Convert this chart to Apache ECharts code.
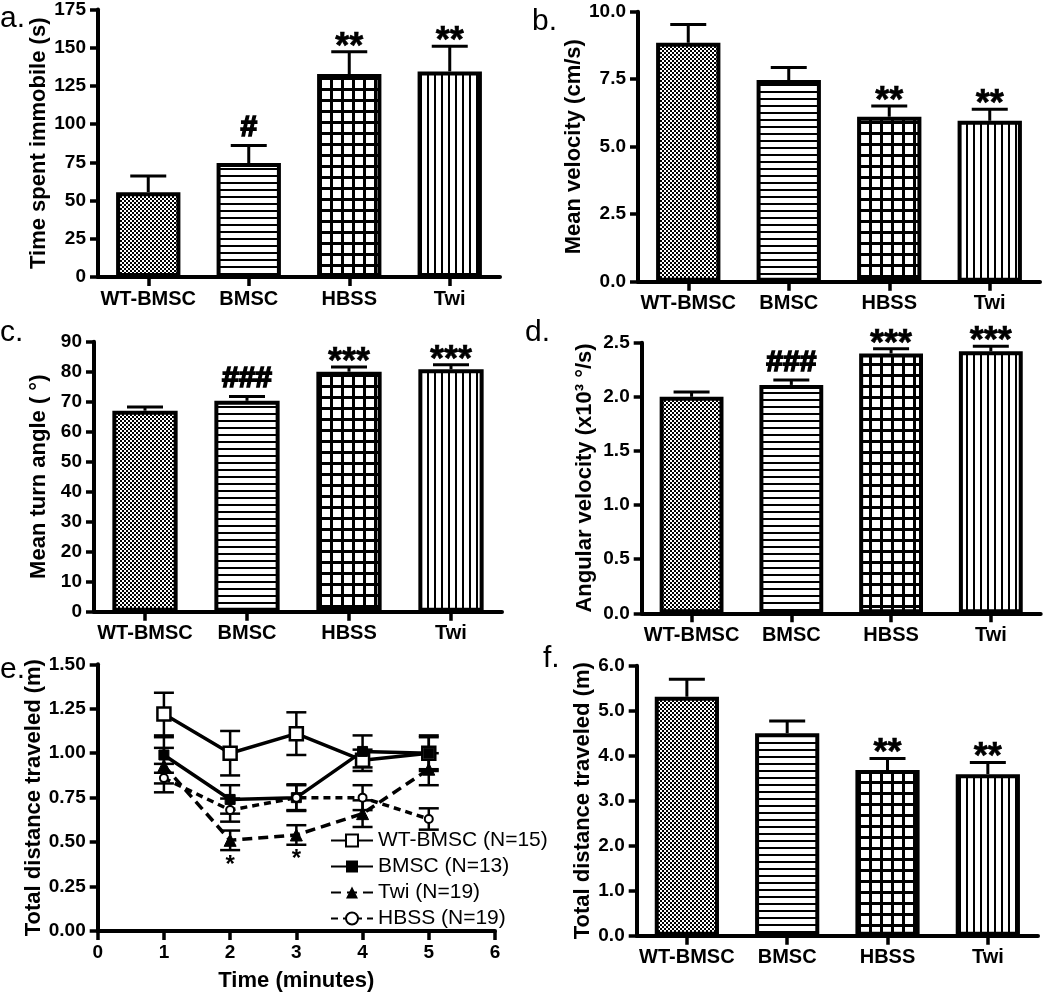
<!DOCTYPE html>
<html><head><meta charset="utf-8">
<script src="https://cdn.jsdelivr.net/npm/echarts@6/dist/echarts.min.js"></script>
<style>html,body{margin:0;padding:0;background:#fff}#c{width:1050px;height:995px}</style>
</head><body><div id="c"></div>
<script>
// ---------- data ----------
const groups = ['WT-BMSC', 'BMSC', 'HBSS', 'Twi'];

const immobileMean = [55.5, 74.5, 132.8, 134.5];
const immobileSem  = [10.5, 11.5, 14.6, 16.5];
const immobileSig  = ['', '#', '**', '**'];

const velocityMean = [8.85, 7.47, 6.11, 5.96];
const velocitySem  = [0.68, 0.46, 0.40, 0.43];
const velocitySig  = ['', '', '**', '**'];

const turnMean = [67.0, 70.3, 80.0, 80.8];
const turnSem  = [1.2, 1.4, 1.6, 1.5];
const turnSig  = ['', '###', '***', '***'];

const angVelMean = [2.00, 2.11, 2.40, 2.42];
const angVelSem  = [0.045, 0.045, 0.045, 0.047];
const angVelSig  = ['', '###', '***', '***'];

const distMean = [5.31, 4.50, 3.68, 3.59];
const distSem  = [0.39, 0.27, 0.26, 0.26];
const distSig  = ['', '', '**', '**'];

const minutes = [1, 2, 3, 4, 5];
const wtBmscDist = [1.22, 1.00, 1.11, 0.96, 1.00];
const wtBmscErr  = [0.12, 0.125, 0.12, 0.06, 0.09];
const bmscDist   = [0.99, 0.74, 0.75, 1.01, 1.00];
const bmscErr    = [0.10, 0.08, 0.075, 0.09, 0.10];
const twiDist    = [0.93, 0.51, 0.54, 0.66, 0.91];
const twiErr     = [0.10, 0.055, 0.055, 0.075, 0.09];
const hbssDist   = [0.86, 0.68, 0.75, 0.75, 0.63];
const hbssErr    = [0.08, 0.065, 0.07, 0.07, 0.06];
const twiSig     = ['', '*', '*', '', ''];

const legendNames = ['WT-BMSC (N=15)', 'BMSC (N=13)', 'Twi (N=19)', 'HBSS (N=19)'];

// ---------- styling ----------
const FF = 'Liberation Sans, Arial, sans-serif';
function pat(w, h, draw) {
  const c = document.createElement('canvas'); c.width = w; c.height = h;
  const g = c.getContext('2d');
  g.fillStyle = '#fff'; g.fillRect(0, 0, w, h);
  g.fillStyle = '#000'; draw(g);
  return { image: c, repeat: 'repeat' };
}
const fills = [
  pat(4, 4, g => { g.fillRect(0, 0, 2, 2); g.fillRect(2, 2, 2, 2); }),
  pat(1, 7, g => { g.fillRect(0, 0, 1, 2); }),
  pat(11, 11, g => { g.fillRect(0, 0, 11, 3); g.fillRect(0, 0, 3, 11); }),
  pat(7, 1, g => { g.fillRect(0, 0, 2, 1); })
];

const grids = [
  { left: 98, top: 8.7, width: 402, height: 268.3 },
  { left: 638, top: 11.7, width: 402, height: 270 },
  { left: 94, top: 341.7, width: 408, height: 270 },
  { left: 641.7, top: 342.7, width: 399, height: 270.6 },
  { left: 97.7, top: 664.3, width: 397.3, height: 266.7 },
  { left: 636.7, top: 665.7, width: 401.3, height: 270 }
];

const axLine = { show: true, lineStyle: { color: '#000', width: 4 } };
const axTick = { show: true, inside: false, length: 8, lineStyle: { color: '#000', width: 3.5 } };
const lbl = { color: '#000', fontFamily: FF, fontWeight: 'bold', fontSize: 19 };
const nameStyle = { color: '#000', fontFamily: FF, fontWeight: 'bold', fontSize: 22 };

function catX(gi) {
  return {
    type: 'category', gridIndex: gi, data: groups, boundaryGap: true,
    axisLine: axLine, axisTick: Object.assign({ alignWithLabel: true }, axTick, { length: 9 }),
    axisLabel: Object.assign({ margin: 12, interval: 0 }, lbl, { fontSize: 20 }), splitLine: { show: false }
  };
}
function valY(gi, max, interval, dec, name, gap) {
  return {
    type: 'value', gridIndex: gi, min: 0, max: max, interval: interval,
    name: name, nameLocation: 'middle', nameRotate: 90, nameGap: gap,
    nameTextStyle: nameStyle,
    axisLine: axLine, axisTick: axTick,
    axisLabel: Object.assign({ margin: 12, formatter: v => v.toFixed(dec) }, lbl),
    splitLine: { show: false }
  };
}

function barSeries(gi, mean) {
  return {
    type: 'bar', xAxisIndex: gi, yAxisIndex: gi, barWidth: '64%', z: 2,
    data: mean.map((v, i) => ({ value: v, itemStyle: { color: fills[i], borderColor: '#000', borderWidth: 4 } }))
  };
}
function barErr(gi, mean, sem, sig) {
  return {
    type: 'custom', xAxisIndex: gi, yAxisIndex: gi, z: 1,
    data: mean.map((v, i) => [i, v, sem[i]]),
    renderItem: function (params, api) {
      const i = api.value(0), m = api.value(1), e = api.value(2);
      const s = sig[params.dataIndex];
      const p0 = api.coord([i, m]), p1 = api.coord([i, m + e]);
      const ls = { stroke: '#000', lineWidth: 3 };
      const ch = [
        { type: 'line', shape: { x1: p0[0], y1: p0[1], x2: p1[0], y2: p1[1] }, style: ls },
        { type: 'line', shape: { x1: p1[0] - 18, y1: p1[1], x2: p1[0] + 18, y2: p1[1] }, style: ls }
      ];
      if (s) {
        const star = s.indexOf('*') >= 0;
        ch.push({
          type: 'text', z2: 10,
          style: {
            text: s, x: p1[0], y: star ? p1[1] - 4 : p1[1] - 17.5,
            align: 'center', verticalAlign: 'middle',
            font: 'bold ' + (star ? 36 : 30) + 'px ' + FF, fill: '#000',
            stroke: '#000', lineWidth: star ? 0.6 : 1.6
          }
        });
      }
      return { type: 'group', children: ch };
    }
  };
}

function lineErr(mean, err) {
  return {
    type: 'custom', xAxisIndex: 4, yAxisIndex: 4, z: 1,
    data: minutes.map((x, i) => [x, mean[i], err[i]]),
    renderItem: function (params, api) {
      const x = api.value(0), m = api.value(1), e = api.value(2);
      const lo = api.coord([x, m - e]), hi = api.coord([x, m + e]);
      const ls = { stroke: '#000', lineWidth: 2.5 };
      return { type: 'group', children: [
        { type: 'line', shape: { x1: lo[0], y1: lo[1], x2: hi[0], y2: hi[1] }, style: ls },
        { type: 'line', shape: { x1: lo[0] - 10, y1: lo[1], x2: lo[0] + 10, y2: lo[1] }, style: ls },
        { type: 'line', shape: { x1: hi[0] - 10, y1: hi[1], x2: hi[0] + 10, y2: hi[1] }, style: ls }
      ] };
    }
  };
}
function pts(arr) { return minutes.map((x, i) => [x, arr[i]]); }

const option = {
  animation: false,
  backgroundColor: '#fff',
  textStyle: { fontFamily: FF },
  grid: grids.map(g => Object.assign({ containLabel: false }, g)),
  legend: {
    orient: 'vertical', left: 325, top: 825, selectedMode: false,
    itemWidth: 42, itemHeight: 15, itemGap: 5,
    textStyle: { color: '#000', fontFamily: FF, fontSize: 21 },
    data: legendNames
  },
  graphic: [
    { type: 'text', left: 0, top: 4, style: { text: 'a.', font: '30px ' + FF, fill: '#000' } },
    { type: 'text', left: 532, top: 7, style: { text: 'b.', font: '30px ' + FF, fill: '#000' } },
    { type: 'text', left: 0, top: 318, style: { text: 'c.', font: '30px ' + FF, fill: '#000' } },
    { type: 'text', left: 525, top: 318, style: { text: 'd.', font: '30px ' + FF, fill: '#000' } },
    { type: 'text', left: 0, top: 655, style: { text: 'e.', font: '30px ' + FF, fill: '#000' } },
    { type: 'text', left: 543, top: 644, style: { text: 'f.', font: '30px ' + FF, fill: '#000' } }
  ],
  xAxis: [
    catX(0), catX(1), catX(2), catX(3),
    {
      type: 'value', gridIndex: 4, min: 0, max: 6, interval: 1,
      name: 'Time (minutes)', nameLocation: 'middle', nameGap: 39,
      nameTextStyle: nameStyle,
      axisLine: axLine, axisTick: Object.assign({}, axTick, { length: 9 }),
      axisLabel: Object.assign({ margin: 12 }, lbl), splitLine: { show: false }
    },
    catX(5)
  ],
  yAxis: [
    valY(0, 175, 25, 0, 'Time spent immobile (s)', 45),
    valY(1, 10, 2.5, 1, 'Mean velocity (cm/s)', 44),
    valY(2, 90, 10, 0, 'Mean turn angle ( °)', 44),
    valY(3, 2.5, 0.5, 1, 'Angular velocity (x10³ °/s)', 46),
    valY(4, 1.5, 0.25, 2, 'Total distance traveled (m)', 49),
    valY(5, 6, 1, 1, 'Total distance traveled (m)', 43)
  ],
  series: [
    barErr(0, immobileMean, immobileSem, immobileSig), barSeries(0, immobileMean),
    barErr(1, velocityMean, velocitySem, velocitySig), barSeries(1, velocityMean),
    barErr(2, turnMean, turnSem, turnSig), barSeries(2, turnMean),
    barErr(3, angVelMean, angVelSem, angVelSig), barSeries(3, angVelMean),
    barErr(5, distMean, distSem, distSig), barSeries(5, distMean),
    lineErr(wtBmscDist, wtBmscErr), lineErr(bmscDist, bmscErr),
    lineErr(twiDist, twiErr), lineErr(hbssDist, hbssErr),
    {
      name: legendNames[0], type: 'line', xAxisIndex: 4, yAxisIndex: 4, z: 5,
      data: pts(wtBmscDist), symbol: 'rect', symbolSize: 13,
      itemStyle: { color: '#fff', borderColor: '#000', borderWidth: 2.5 },
      lineStyle: { color: '#000', width: 3.5 }
    },
    {
      name: legendNames[1], type: 'line', xAxisIndex: 4, yAxisIndex: 4, z: 5,
      data: pts(bmscDist), symbol: 'rect', symbolSize: 10,
      itemStyle: { color: '#000', borderColor: '#000' },
      lineStyle: { color: '#000', width: 3.5 }
    },
    {
      name: legendNames[2], type: 'line', xAxisIndex: 4, yAxisIndex: 4, z: 5,
      data: pts(twiDist), symbol: 'triangle', symbolSize: 12,
      itemStyle: { color: '#000', borderColor: '#000' },
      lineStyle: { color: '#000', width: 3.5, type: [10, 6] }
    },
    {
      name: legendNames[3], type: 'line', xAxisIndex: 4, yAxisIndex: 4, z: 5,
      data: pts(hbssDist), symbol: 'circle', symbolSize: 8,
      itemStyle: { color: '#fff', borderColor: '#000', borderWidth: 2 },
      lineStyle: { color: '#000', width: 3.5, type: [7, 5] }
    },
    {
      type: 'custom', xAxisIndex: 4, yAxisIndex: 4, z: 6,
      data: minutes.map((x, i) => [x, twiDist[i] - twiErr[i]]),
      renderItem: function (params, api) {
        const s = twiSig[params.dataIndex];
        if (!s) return null;
        const p = api.coord([api.value(0), api.value(1)]);
        return { type: 'text', style: { text: s, x: p[0], y: p[1] + 15, align: 'center', verticalAlign: 'middle', font: 'bold 24px ' + FF, fill: '#000' } };
      }
    }
  ]
};

const chart = echarts.init(document.getElementById('c'), null, { renderer: 'canvas' });
chart.setOption(option);
</script>
</body></html>
